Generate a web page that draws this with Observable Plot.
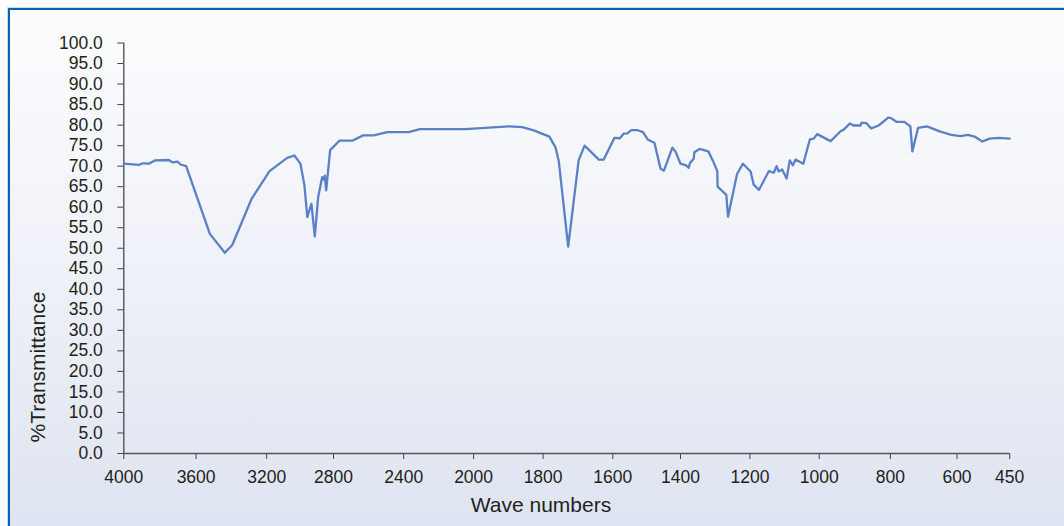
<!DOCTYPE html>
<html><head><meta charset="utf-8">
<script src="https://cdn.jsdelivr.net/npm/d3@7"></script>
<script src="https://cdn.jsdelivr.net/npm/@observablehq/plot@0.6"></script>
<style>
html,body{margin:0;padding:0;background:#fff;overflow:hidden;width:1064px;height:526px;}
#frame{position:absolute;left:8px;top:8px;width:1070px;height:530px;border-left:2.5px solid #0d5fb2;border-top:2.5px solid #0d5fb2;background:linear-gradient(to bottom,#fdfdfe 0%,#eef1f8 50%,#dde3f0 100%);box-shadow:-1px -1px 0 #c5d8ee;}
#chart{position:absolute;left:0;top:0;}
</style></head>
<body>
<div id="frame"></div>
<div id="chart"></div>
<script>
// Wave number tick labels (category-like axis)
const xTickLabels = [4000, 3600, 3200, 2800, 2400, 2000, 1800, 1600, 1400, 1200, 1000, 800, 600, 450];
const yTickValues = d3.range(0, 100.01, 5);

// Spectrum: wave numbers (cm-1) and %Transmittance
const wavenumbers = [4000,3917,3895,3862,3828,3751,3729,3703,3686,3655,
  3522,3437,3395,3286,3183,3077,3034,2998,2974,2957,
  2932,2912,2892,2868,2858,2852,2844,2820,2766,2693,
  2631,2570,2494,2371,2308,2046,1899,1860,1827,1782,
  1764,1755,1728,1698,1681,1640,1626,1595,1579,1568,
  1557,1545,1528,1511,1497,1477,1459,1449,1424,1415,
  1400,1384,1376,1373,1362,1360,1345,1320,1307,1294,
  1293,1268,1263,1237,1220,1198,1189,1174,1145,1131,
  1123,1117,1107,1094,1085,1076,1068,1046,1027,1016,
  1006,968,940,931,914,904,884,881,868,854,
  833,806,798,782,758,740,734,717,690,650,
  617,590,569,550,528,507,481,450];
const transmittance = [70.6,70.3,70.7,70.6,71.4,71.5,70.9,71.1,70.4,70.0,
  53.5,48.9,50.8,62.0,68.8,72.0,72.6,70.6,65.3,57.6,
  60.8,52.9,62.4,67.3,66.7,67.7,64.1,73.9,76.2,76.2,
  77.5,77.5,78.3,78.3,79.0,79.0,79.7,79.5,78.7,77.2,
  74.5,71.2,50.4,71.4,75.0,71.6,71.6,76.9,76.8,77.9,
  78.0,78.8,78.8,78.3,76.5,75.7,69.4,68.9,74.5,73.6,
  70.6,70.2,69.6,70.7,71.8,73.4,74.2,73.6,71.4,68.8,
  65.0,63.0,57.7,68.1,70.6,68.7,65.5,64.2,68.8,68.4,
  70.0,68.7,69.2,67.0,71.4,70.2,71.6,70.6,76.5,76.7,
  77.8,76.1,78.5,78.9,80.4,79.9,79.9,80.6,80.5,79.2,
  79.9,81.8,81.7,80.8,80.8,79.7,73.6,79.3,79.7,78.4,
  77.6,77.3,77.6,77.2,76.0,76.7,76.9,76.7];

const xTitle = "Wave numbers";
const yTitle = "%Transmittance";

const data = wavenumbers.map((w, i) => ({w, t: transmittance[i]}));
const font = "'Liberation Sans', Arial, Helvetica, sans-serif";

const chart = Plot.plot({
  width: 1064, height: 526,
  marginLeft: 123.3, marginRight: 54.8, marginTop: 42.5, marginBottom: 73,
  style: {background: "transparent", fontFamily: font, fontSize: "17.5px", color: "#231f20", overflow: "visible"},
  x: {type: "linear", domain: xTickLabels,
      range: [123.3, 195.6, 266.2, 333.0, 403.2, 473.1, 542.6, 612.3, 680.0, 749.4, 818.7, 889.9, 956.5, 1009.2]},
  y: {type: "linear", domain: [0, 100]},
  marks: [
    Plot.axisX({ticks: xTickLabels, tickFormat: d => String(d), tickSize: 6, tickPadding: 11, label: null,
                stroke: "#444", fill: "#231f20", fontSize: 17.5}),
    Plot.axisY({ticks: yTickValues, tickFormat: d => d.toFixed(1), tickSize: 6, tickPadding: 15, label: null,
                stroke: "#444", fill: "#231f20", fontSize: 17.5}),
    Plot.ruleY([0], {stroke: "#555", strokeWidth: 1.4}),
    Plot.ruleX([xTickLabels[0]], {stroke: "#555", strokeWidth: 1.4}),
    Plot.line(data, {x: "w", y: "t", stroke: "#5b80c6", strokeWidth: 2.3, strokeLinejoin: "round"})
  ]
});
document.getElementById("chart").appendChild(chart);

const svg = d3.select(chart);
svg.append("text").attr("x", 541).attr("y", 511.5).attr("text-anchor", "middle")
  .attr("font-family", font).attr("font-size", 21).attr("fill", "#231f20").text(xTitle);
svg.append("text").attr("transform", "translate(44.5,367) rotate(-90)").attr("text-anchor", "middle")
  .attr("font-family", font).attr("font-size", 21).attr("fill", "#231f20").text(yTitle);
</script>
</body></html>
